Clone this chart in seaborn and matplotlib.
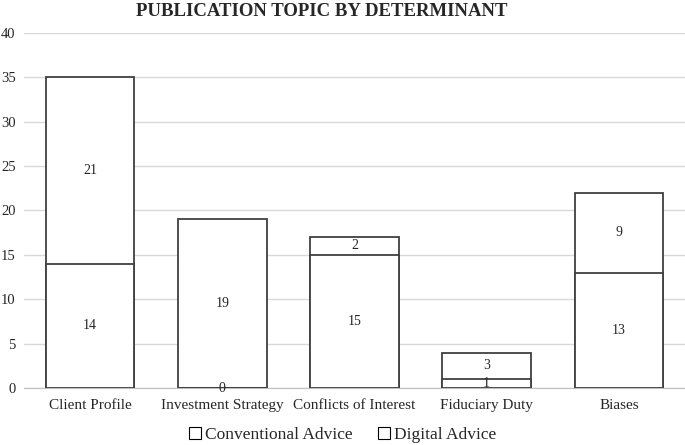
import matplotlib
matplotlib.use('Agg')
import matplotlib.pyplot as plt
import seaborn as sns
import pandas as pd
from matplotlib.patches import Patch

categories = ['Client Profile', 'Investment Strategy', 'Conflicts of Interest',
              'Fiduciary Duty', 'Biases']
conventional = [14, 0, 15, 1, 13]
digital = [21, 19, 2, 3, 9]

sns.set_style('white')
plt.rcParams['font.family'] = ['Liberation Serif', 'DejaVu Serif']

df = pd.DataFrame({'Topic': categories, 'Conventional': conventional, 'Digital': digital})
df['Total'] = df['Conventional'] + df['Digital']

fig = plt.figure(figsize=(6.85, 4.45), dpi=100)
ax = fig.add_axes([0.035, 0.128, 0.965, 0.798])

bar_kw = dict(color='white', edgecolor='#404040', linewidth=1.3, width=0.67, zorder=3)
sns.barplot(data=df, x='Topic', y='Total', ax=ax, **bar_kw)
sns.barplot(data=df, x='Topic', y='Conventional', ax=ax, **bar_kw)

for i, row in df.iterrows():
    ax.text(i, row['Conventional'] / 2, str(row['Conventional']),
            ha='center', va='center', fontsize=10, zorder=4)
    ax.text(i, row['Conventional'] + row['Digital'] / 2, str(row['Digital']),
            ha='center', va='center', fontsize=10, zorder=4)

ax.set_ylim(0, 40)
ax.set_yticks(range(0, 41, 5))
ax.set_xlim(-0.5, 4.5)
ax.yaxis.grid(True, color='#d9d9d9', linewidth=1, zorder=0)
ax.set_axisbelow(True)
for s in ['top', 'right', 'left']:
    ax.spines[s].set_visible(False)
ax.spines['bottom'].set_color('#bfbfbf')
ax.tick_params(axis='x', length=0, labelsize=11, pad=8)
ax.tick_params(axis='y', length=0, labelsize=10.5, pad=6)
ax.set_xlabel('')
ax.set_ylabel('')

fig.text(0.47, 0.993, 'PUBLICATION TOPIC BY DETERMINANT', fontsize=13.5,
         fontweight='bold', ha='center', va='top')

handles = [Patch(facecolor='white', edgecolor='black', linewidth=0.8, label='Conventional Advice'),
           Patch(facecolor='white', edgecolor='black', linewidth=0.8, label='Digital Advice')]
fig.legend(handles=handles, loc='lower center', ncol=2, frameon=False, fontsize=12.5,
           bbox_to_anchor=(0.5, -0.03), handlelength=0.7, handleheight=0.7,
           handletextpad=0.2, columnspacing=1.5)

fig.savefig('out.png', dpi=100)
plt.close()
